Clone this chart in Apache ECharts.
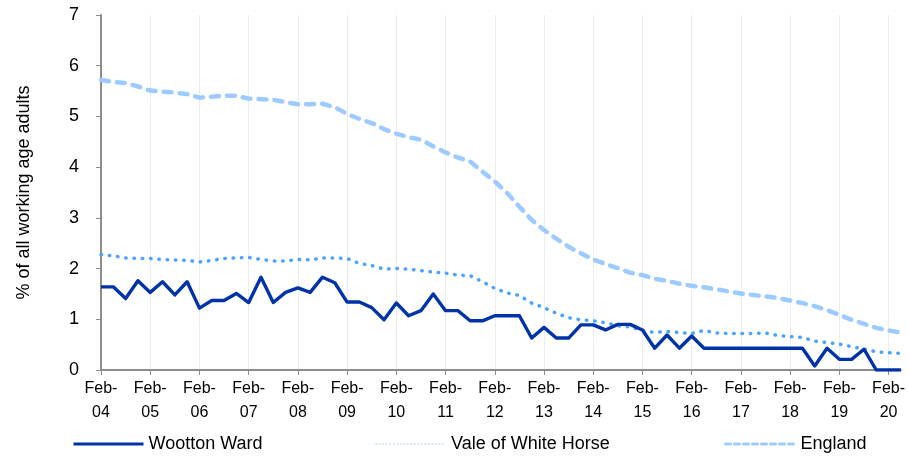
<!DOCTYPE html>
<html lang="en">
<head>
    <meta charset="UTF-8">
    <title>Working age adults</title>
    <script src="https://cdn.jsdelivr.net/npm/echarts@6/dist/echarts.min.js"></script>
    <style>
        html, body { margin: 0; padding: 0; background: #fff; }
        #main { width: 908px; height: 457px; }
    </style>
</head>
<body>
<div id="main"></div>
<script>
    // quarterly points, Feb-04 .. May-20
    var categories = [
        'Feb-04','May-04','Aug-04','Nov-04','Feb-05','May-05','Aug-05','Nov-05',
        'Feb-06','May-06','Aug-06','Nov-06','Feb-07','May-07','Aug-07','Nov-07',
        'Feb-08','May-08','Aug-08','Nov-08','Feb-09','May-09','Aug-09','Nov-09',
        'Feb-10','May-10','Aug-10','Nov-10','Feb-11','May-11','Aug-11','Nov-11',
        'Feb-12','May-12','Aug-12','Nov-12','Feb-13','May-13','Aug-13','Nov-13',
        'Feb-14','May-14','Aug-14','Nov-14','Feb-15','May-15','Aug-15','Nov-15',
        'Feb-16','May-16','Aug-16','Nov-16','Feb-17','May-17','Aug-17','Nov-17',
        'Feb-18','May-18','Aug-18','Nov-18','Feb-19','May-19','Aug-19','Nov-19',
        'Feb-20','May-20'
    ];

    var wootton = [
        1.64, 1.64, 1.41, 1.76, 1.53, 1.74, 1.48, 1.74,
        1.22, 1.37, 1.37, 1.51, 1.33, 1.83, 1.33, 1.53,
        1.62, 1.53, 1.83, 1.72, 1.34, 1.34, 1.23, 0.99,
        1.32, 1.07, 1.17, 1.50, 1.17, 1.17, 0.97, 0.97,
        1.07, 1.07, 1.07, 0.63, 0.84, 0.63, 0.63, 0.89,
        0.89, 0.79, 0.90, 0.90, 0.79, 0.43, 0.69, 0.43,
        0.67, 0.43, 0.43, 0.43, 0.43, 0.43, 0.43, 0.43,
        0.43, 0.43, 0.08, 0.43, 0.21, 0.21, 0.41, 0,
        0, 0
    ];

    var vale = [
        2.28, 2.25, 2.21, 2.20, 2.20, 2.18, 2.17, 2.16,
        2.13, 2.16, 2.20, 2.21, 2.22, 2.18, 2.15, 2.15,
        2.18, 2.17, 2.21, 2.21, 2.20, 2.10, 2.06, 1.99,
        2.00, 1.99, 1.96, 1.93, 1.91, 1.87, 1.86, 1.74,
        1.61, 1.52, 1.47, 1.32, 1.23, 1.12, 1.03, 0.99,
        0.97, 0.93, 0.87, 0.85, 0.78, 0.74, 0.76, 0.74,
        0.72, 0.78, 0.73, 0.72, 0.72, 0.72, 0.73, 0.68,
        0.66, 0.64, 0.57, 0.54, 0.51, 0.46, 0.41, 0.36,
        0.34, 0.33
    ];

    var england = [
        5.72, 5.68, 5.66, 5.59, 5.51, 5.49, 5.47, 5.44,
        5.37, 5.39, 5.41, 5.41, 5.35, 5.34, 5.33, 5.28,
        5.24, 5.24, 5.25, 5.18, 5.05, 4.95, 4.87, 4.75,
        4.66, 4.59, 4.54, 4.41, 4.29, 4.19, 4.11, 3.91,
        3.72, 3.49, 3.22, 2.96, 2.76, 2.59, 2.43, 2.30,
        2.18, 2.09, 2.01, 1.92, 1.87, 1.80, 1.76, 1.70,
        1.66, 1.63, 1.59, 1.55, 1.51, 1.48, 1.45, 1.42,
        1.37, 1.32, 1.26, 1.18, 1.09, 0.99, 0.91, 0.83,
        0.78, 0.74
    ];

    var yTicks = [0, 1, 2, 3, 4, 5, 6, 7];

    var myChart = echarts.init(document.getElementById('main'), null, {renderer: 'canvas'});
    var font = 'Liberation Sans, Arial, sans-serif';

    function legendAt(name, left, lineStyle) {
        return {
            data: [name],
            left: left,
            top: 430,
            itemWidth: 70,
            itemHeight: 16,
            itemGap: 0,
            itemStyle: {opacity: 0},
            lineStyle: lineStyle,
            textStyle: {fontFamily: font, fontSize: 18, color: '#000'}
        };
    }

    var option = {
        animation: false,
        grid: {left: 101, right: 1, top: 15, bottom: 87, containLabel: false},
        legend: [
            legendAt('Wootton Ward', 67, {width: 3}),
            legendAt('Vale of White Horse', 370, {color: '#d6e9ff', width: 2, type: [0.5, 3], cap: 'round'}),
            legendAt('England', 719, {width: 3, type: [5, 4]})
        ],
        xAxis: {
            type: 'category',
            data: categories,
            boundaryGap: false,
            axisLine: {lineStyle: {color: '#8c8c8c', width: 2}},
            axisTick: {show: true, interval: 3, length: 5, lineStyle: {color: '#8c8c8c', width: 1}},
            splitLine: {show: true, interval: 3, lineStyle: {color: '#ececec', width: 1}},
            axisLabel: {
                interval: 3,
                margin: 7,
                fontFamily: font,
                fontSize: 16,
                lineHeight: 24,
                color: '#000',
                formatter: function (v) { return v.replace('-', '-\n'); }
            }
        },
        yAxis: {
            type: 'value',
            min: yTicks[0],
            max: yTicks[yTicks.length - 1],
            interval: 1,
            name: '% of all working age adults',
            nameLocation: 'middle',
            nameRotate: 90,
            nameGap: 68,
            nameTextStyle: {fontFamily: font, fontSize: 18, color: '#000'},
            axisLine: {show: true, lineStyle: {color: '#8c8c8c', width: 2}},
            axisTick: {show: true, length: 5, lineStyle: {color: '#8c8c8c', width: 1}},
            splitLine: {show: false},
            axisLabel: {fontFamily: font, fontSize: 18, color: '#000', margin: 22}
        },
        series: [
            {
                name: 'Wootton Ward',
                type: 'line',
                data: wootton,
                symbol: 'none',
                z: 5,
                lineStyle: {color: '#0033a8', width: 3.4, join: 'round'},
                itemStyle: {color: '#0033a8'}
            },
            {
                name: 'Vale of White Horse',
                type: 'line',
                data: vale,
                symbol: 'none',
                z: 4,
                lineStyle: {color: '#4aa3ff', width: 3.5, type: [0.5, 7.8], cap: 'round'},
                itemStyle: {color: '#4aa3ff'}
            },
            {
                name: 'England',
                type: 'line',
                data: england,
                symbol: 'none',
                z: 3,
                lineStyle: {color: '#9dcbff', width: 4.5, type: [8, 8], cap: 'round'},
                itemStyle: {color: '#9dcbff'}
            }
        ]
    };

    myChart.setOption(option);
</script>
</body>
</html>
